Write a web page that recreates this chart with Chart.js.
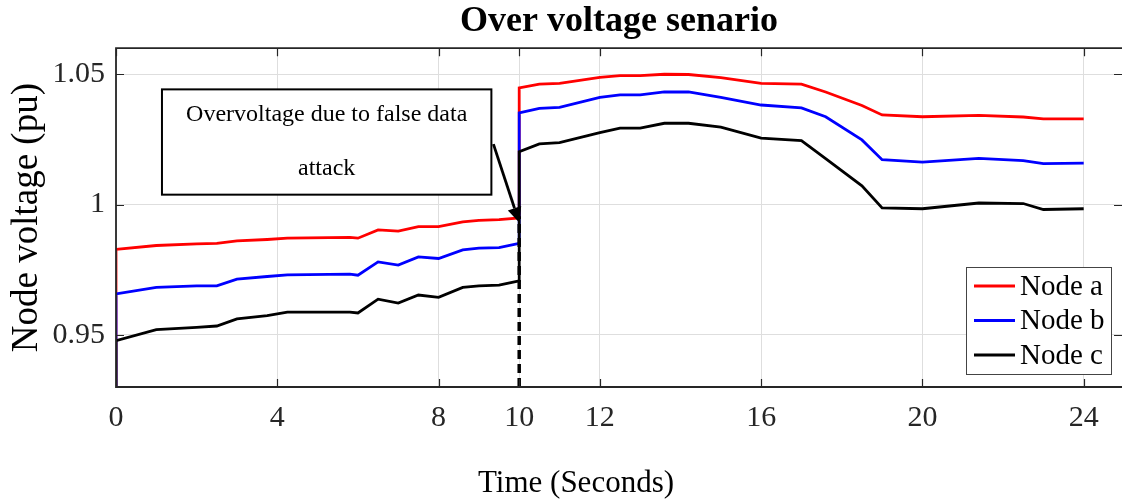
<!DOCTYPE html>
<html>
<head>
<meta charset="utf-8">
<script src="https://cdn.jsdelivr.net/npm/chart.js@4"></script>
<style>
  html, body { margin: 0; padding: 0; background: #fff; }
</style>
</head>
<body>
<canvas id="myChart" width="1122" height="502"></canvas>
<script>
// time stamps shared by the three node voltage traces (seconds)
const timeSec = [0, 0, 1.0, 2.0, 2.5, 3.0, 3.75, 4.25, 5.8, 6.0, 6.5, 7.0, 7.5, 8.0, 8.6, 9.0, 9.5, 10,
                 10, 10.5, 11.0, 12.0, 12.5, 13.0, 13.6, 14.2, 15.0, 16.0, 17.0, 17.6, 18.5, 19.0, 20.0, 21.4, 22.5, 23.0, 24.0];
const nodeA = [0.920, 0.9828, 0.9843, 0.9849, 0.9851, 0.9861, 0.9866, 0.9871, 0.9874, 0.9871, 0.9903, 0.9898, 0.9915, 0.9915, 0.9934, 0.9939, 0.9942, 0.9949,
               1.0448, 1.0462, 1.0465, 1.0488, 1.0495, 1.0495, 1.0500, 1.0499, 1.0487, 1.0465, 1.0462, 1.0432, 1.0380, 1.0344, 1.0337, 1.0342, 1.0336, 1.0329, 1.0329];
const nodeB = [0.920, 0.9657, 0.9682, 0.9688, 0.9688, 0.9714, 0.9724, 0.9730, 0.9733, 0.9729, 0.9780, 0.9768, 0.9799, 0.9793, 0.9826, 0.9833, 0.9835, 0.9851,
               1.0352, 1.0369, 1.0373, 1.0411, 1.0421, 1.0421, 1.0432, 1.0432, 1.0411, 1.0382, 1.0371, 1.0337, 1.0248, 1.0172, 1.0163, 1.0177, 1.0169, 1.0157, 1.0159];
const nodeC = [0.920, 0.9478, 0.9520, 0.9529, 0.9534, 0.9561, 0.9574, 0.9587, 0.9587, 0.9584, 0.9637, 0.9622, 0.9653, 0.9644, 0.9682, 0.9688, 0.9691, 0.9707,
               1.0203, 1.0233, 1.0238, 1.0276, 1.0293, 1.0293, 1.0312, 1.0312, 1.0297, 1.0255, 1.0245, 1.0176, 1.0072, 0.9987, 0.9984, 1.0006, 1.0004, 0.9981, 0.9984];

const seriesNames = ['Node a', 'Node b', 'Node c'];
const xTickValues = [0, 4, 8, 10, 12, 16, 20, 24];
const yTickValues = [0.95, 1, 1.05];

// moment of the false data injection and the span of its marker line
const attackTime = 10;
const attackMarker = [0.93, 0.9955];
const noteLines = ['Overvoltage due to false data', 'attack'];

const serif = "'Liberation Serif', 'Times New Roman', serif";
const axisInk = '#262626';

const toPoints = (vals) => timeSec.map((t, i) => ({x: t, y: vals[i]}));

function trace(label, vals, color, order) {
  return {
    label,
    data: toPoints(vals),
    borderColor: color,
    backgroundColor: color,
    borderWidth: 2.8,
    pointRadius: 0,
    tension: 0,
    order
  };
}

// frame, inward ticks, note box with arrow, legend and x title
const decorations = {
  id: 'decorations',
  afterDatasetsDraw(chart) {
    const {ctx, chartArea: a, scales: {x, y}} = chart;
    ctx.save();

    // MATLAB style ticks on all four edges
    ctx.strokeStyle = axisInk;
    ctx.lineWidth = 1.2;
    const tl = 8;
    ctx.beginPath();
    xTickValues.forEach(v => {
      const px = Math.round(x.getPixelForValue(v)) + 0.5;
      ctx.moveTo(px, a.bottom); ctx.lineTo(px, a.bottom - tl);
      ctx.moveTo(px, a.top); ctx.lineTo(px, a.top + tl);
    });
    yTickValues.forEach(v => {
      const py = Math.round(y.getPixelForValue(v)) + 0.5;
      ctx.moveTo(a.left, py); ctx.lineTo(a.left + tl, py);
      ctx.moveTo(a.right, py); ctx.lineTo(a.right - tl, py);
    });
    ctx.stroke();

    // box edges (the right edge sits on the canvas border)
    ctx.lineWidth = 1.8;
    ctx.beginPath();
    ctx.moveTo(a.right, a.top);
    ctx.lineTo(a.left, a.top);
    ctx.lineTo(a.left, a.bottom);
    ctx.lineTo(a.right, a.bottom);
    ctx.stroke();

    // note box
    const bx1 = x.getPixelForValue(1.14), bx2 = x.getPixelForValue(9.31);
    const by1 = y.getPixelForValue(1.0442), by2 = y.getPixelForValue(1.0038);
    ctx.fillStyle = '#fff';
    ctx.fillRect(bx1, by1, bx2 - bx1, by2 - by1);
    ctx.strokeStyle = '#000';
    ctx.lineWidth = 2;
    ctx.strokeRect(bx1, by1, bx2 - bx1, by2 - by1);
    ctx.fillStyle = '#000';
    ctx.font = '24px ' + serif;
    ctx.textAlign = 'center';
    ctx.textBaseline = 'middle';
    const cx = (bx1 + bx2) / 2;
    ctx.fillText(noteLines[0], cx, y.getPixelForValue(1.0346));
    ctx.fillText(noteLines[1], cx, y.getPixelForValue(1.0136));

    // arrow pointing at the attack instant
    const sx = x.getPixelForValue(9.36), sy = y.getPixelForValue(1.0232);
    const ex = x.getPixelForValue(attackTime), ey = y.getPixelForValue(0.9931);
    const ang = Math.atan2(ey - sy, ex - sx);
    const head = 15, half = 7;
    ctx.lineWidth = 2.8;
    ctx.beginPath();
    ctx.moveTo(sx, sy);
    ctx.lineTo(ex - head * Math.cos(ang), ey - head * Math.sin(ang));
    ctx.stroke();
    ctx.beginPath();
    ctx.moveTo(ex, ey);
    ctx.lineTo(ex - head * Math.cos(ang) + half * Math.sin(ang), ey - head * Math.sin(ang) - half * Math.cos(ang));
    ctx.lineTo(ex - head * Math.cos(ang) - half * Math.sin(ang), ey - head * Math.sin(ang) + half * Math.cos(ang));
    ctx.closePath();
    ctx.fill();

    // legend, bottom right inside the axes
    const lw = 145, lh = 107;
    const lx = a.right - 11 - lw, ly = a.bottom - 13 - lh;
    ctx.fillStyle = '#fff';
    ctx.fillRect(lx, ly, lw, lh);
    ctx.strokeStyle = '#444';
    ctx.lineWidth = 1;
    ctx.strokeRect(lx + 0.5, ly + 0.5, lw, lh);
    ctx.font = '29px ' + serif;
    ctx.textAlign = 'left';
    ctx.textBaseline = 'middle';
    chart.data.datasets.filter(d => seriesNames.includes(d.label)).forEach((d, i) => {
      const rowY = ly + 19 + i * 34.5;
      ctx.strokeStyle = d.borderColor;
      ctx.lineWidth = 2.8;
      ctx.beginPath();
      ctx.moveTo(lx + 8, rowY);
      ctx.lineTo(lx + 49, rowY);
      ctx.stroke();
      ctx.fillStyle = '#000';
      ctx.fillText(d.label, lx + 54, rowY + 1);
    });

    // x axis title
    ctx.font = '31px ' + serif;
    ctx.textAlign = 'center';
    ctx.fillStyle = '#000';
    ctx.fillText('Time (Seconds)', 576, 484);

    ctx.restore();
  }
};

const data = {
  datasets: [
    trace(seriesNames[0], nodeA, '#ff0000', 3),
    trace(seriesNames[1], nodeB, '#0000ff', 2),
    trace(seriesNames[2], nodeC, '#000000', 1),
    {
      label: 'attack',
      data: attackMarker.map(v => ({x: attackTime, y: v})),
      borderColor: '#000',
      borderWidth: 3.5,
      borderDash: [9, 5],
      pointRadius: 0,
      order: 0
    }
  ]
};

const config = {
  type: 'line',
  data: data,
  options: {
    responsive: false,
    animation: false,
    layout: { padding: 0 },
    scales: {
      x: {
        type: 'linear',
        min: 0,
        max: 24.95,
        afterBuildTicks: (scale) => { scale.ticks = xTickValues.map(v => ({value: v})); },
        afterFit: (scale) => { scale.height = 115; },
        grid: { color: '#dedede', drawTicks: false },
        border: { display: false },
        ticks: {
          padding: 13,
          color: axisInk,
          font: { family: serif, size: 30 },
          maxRotation: 0,
          callback: (v) => String(v)
        }
      },
      y: {
        min: 0.93,
        max: 1.06,
        afterBuildTicks: (scale) => { scale.ticks = yTickValues.map(v => ({value: v})); },
        afterFit: (scale) => { scale.width = 116; },
        grid: { color: '#dedede', drawTicks: false },
        border: { display: false },
        ticks: {
          padding: 11,
          color: axisInk,
          font: { family: serif, size: 30 },
          callback: (v) => String(v)
        },
        title: {
          display: true,
          text: 'Node voltage (pu)',
          color: '#000',
          font: { family: serif, size: 37 },
          padding: { top: 5, bottom: 0 }
        }
      }
    },
    plugins: {
      legend: { display: false },
      tooltip: { enabled: false },
      title: {
        display: true,
        text: 'Over voltage senario',
        fullSize: false,
        color: '#000',
        font: { family: serif, size: 36, weight: 'bold' },
        padding: { top: 0, bottom: 5 }
      }
    }
  },
  plugins: [decorations]
};

const ctx = document.getElementById('myChart');
const myChart = new Chart(ctx, config);
</script>
</body>
</html>
